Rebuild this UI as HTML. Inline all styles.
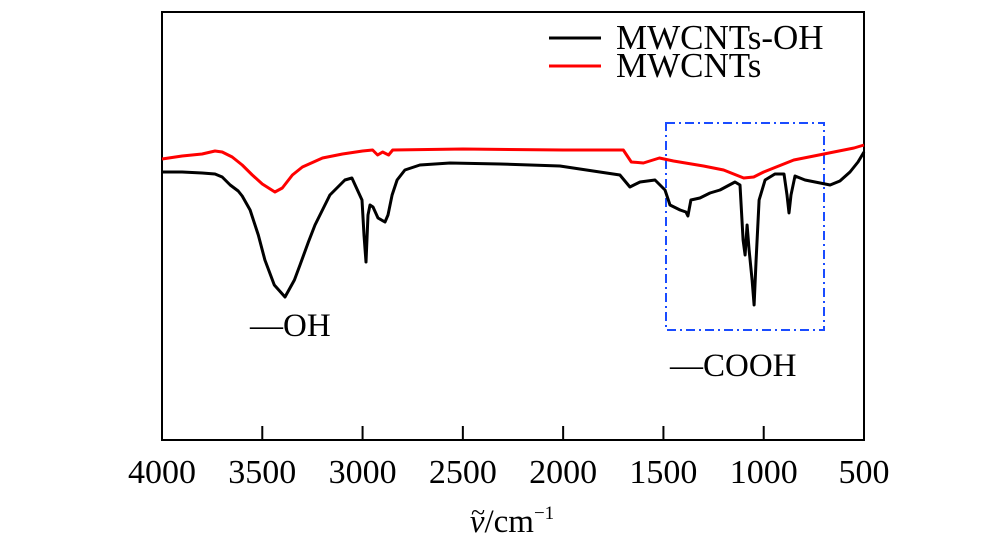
<!DOCTYPE html>
<html><head><meta charset="utf-8"><style>
html,body{margin:0;padding:0;background:#fff;}
svg{display:block;font-family:"Liberation Serif","Times New Roman",serif;}
</style></head><body>
<svg id="chart" width="1000" height="553" viewBox="0 0 1000 553" xmlns="http://www.w3.org/2000/svg"></svg>
<script>
const xTicks = [4000, 3500, 3000, 2500, 2000, 1500, 1000, 500];
const seriesNames = ["MWCNTs-OH", "MWCNTs"];
const ohWavenumbers = [4000,3900,3800,3736,3700,3660,3620,3600,3561,3520,3487,3440,3387,3340,3312,3270,3237,3163,3088,3053,3003,2993,2983,2973,2963,2948,2923,2888,2873,2853,2828,2789,2714,2564,2315,2016,1817,1717,1667,1617,1542,1492,1467,1417,1388,1378,1363,1318,1268,1218,1143,1118,1103,1093,1083,1073,1058,1048,1038,1023,993,944,899,884,874,864,844,794,719,669,620,570,530,500];
const ohValues = [268,268,267,266,263,255,249,244,230,205,180,155,143,160,175,198,215,245,260,262,240,205,178,225,235,233,222,218,225,245,260,270,275,277,276,274,268,265,253,258,260,250,235,230,228,224,240,242,247,250,258,255,200,185,215,190,160,135,180,240,260,266,266,245,227,245,264,260,257,255,259,268,278,288];
const rawWavenumbers = [4000,3900,3800,3736,3700,3650,3600,3550,3500,3437,3400,3350,3300,3200,3100,3000,2950,2925,2900,2870,2850,2500,2000,1700,1660,1600,1520,1450,1300,1200,1100,1050,1000,950,850,750,650,550,500];
const rawValues = [281,284,286,289,288,283,275,265,256,248,252,265,273,282,286,289,290,285,288,285,290,291,290,290,278,277,282,279,274,270,262,263,268,272,280,284,288,292,295];

const svg = document.getElementById('chart');
const NS = 'http://www.w3.org/2000/svg';
const L = 162, R = 864, T = 12, B = 440;
function xs(w){ return L + (4000 - w) / 3500 * (R - L); }
function ys(v){ return B - v; }
function mk(tag, attrs, parent){
  const e = document.createElementNS(NS, tag);
  for (const k in attrs) e.setAttribute(k, attrs[k]);
  (parent || svg).appendChild(e);
  return e;
}
const frame = mk('rect', {x:L, y:T, width:R-L, height:B-T, fill:'none', stroke:'#000', 'stroke-width':2});


xTicks.forEach(t => {
  const x = xs(t);
  if (t !== 4000 && t !== 500) {
    const tk = mk('line', {x1:x, x2:x, y1:B, y2:B-14, stroke:'#000', 'stroke-width':2});
    
    
  }
  const lb = mk('text', {x:x, y:483, 'text-anchor':'middle', 'font-size':34});
  lb.textContent = t;
  
  
});
const at = mk('text', {x:512, y:532, 'text-anchor':'middle', 'font-size':33});
at.innerHTML = '<tspan font-style="italic">ν</tspan>/cm<tspan font-size="19" dy="-13">−1</tspan>';


const tl = mk('text', {x:478, y:521, 'text-anchor':'middle', 'font-size':26});
tl.textContent = '~';


const box = mk('rect', {x:666, y:123, width:158, height:207, fill:'none', stroke:'#1a4cff', 'stroke-width':2, 'stroke-dasharray':'9,4,2,4'});


function line(ws, vs, color, name){
  const d = ws.map((w,i) => (i ? 'L' : 'M') + xs(w).toFixed(1) + ',' + ys(vs[i]).toFixed(1)).join(' ');
  const p = mk('path', {d:d, fill:'none', stroke:color, 'stroke-width':3, 'stroke-linejoin':'round'});
  
  
}
line(rawWavenumbers, rawValues, '#ff0000', 'mwcnts-line');
line(ohWavenumbers, ohValues, '#000000', 'mwcnts-oh-line');
const a1 = mk('text', {x:250, y:336, 'font-size':33});
a1.textContent = '—OH';


const a2 = mk('text', {x:670, y:376, 'font-size':33});
a2.textContent = '—COOH';


const colors = ['#000', '#ff0000'];
seriesNames.forEach((n, i) => {
  const y = 38 + i * 28;
  const ln = mk('line', {x1:549, x2:601, y1:y, y2:y, stroke:colors[i], 'stroke-width':3});
  
  
  const tx = mk('text', {x:616, y:y + 11, 'font-size':35});
  tx.textContent = n;
  
  
});
</script>
</body></html>
